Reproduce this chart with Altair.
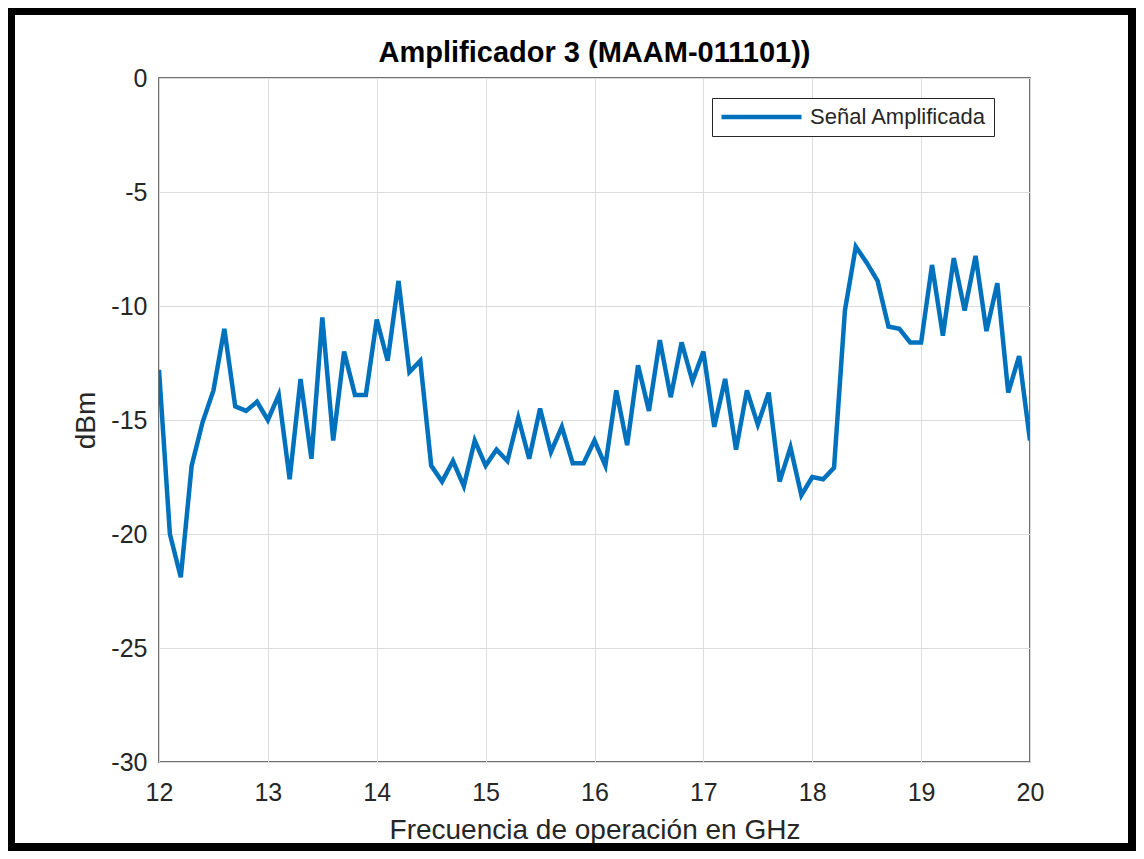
import altair as alt
import pandas as pd

freq_ghz = [round(12 + 0.1 * i, 1) for i in range(81)]
dbm = [
    -12.8, -20.0, -21.9, -17.0, -15.1, -13.7, -11.0, -14.4, -14.6, -14.2,
    -15.0, -13.9, -17.6, -13.2, -16.7, -10.5, -15.9, -12.0, -13.9, -13.9,
    -10.6, -12.4, -8.9, -12.9, -12.4, -17.0, -17.7, -16.8, -17.9, -15.9,
    -17.0, -16.3, -16.8, -14.9, -16.7, -14.5, -16.4, -15.3, -16.9, -16.9,
    -15.9, -17.0, -13.7, -16.1, -12.6, -14.6, -11.5, -14.0, -11.6, -13.3,
    -12.0, -15.3, -13.2, -16.3, -13.7, -15.2, -13.8, -17.7, -16.2, -18.3,
    -17.5, -17.6, -17.1, -10.2, -7.4, -8.1, -8.9, -10.9, -11.0, -11.6,
    -11.6, -8.2, -11.3, -7.9, -10.2, -7.8, -11.1, -9.0, -13.8, -12.2,
    -15.9,
]
series_name = "Señal Amplificada"
x_ticks = [12, 13, 14, 15, 16, 17, 18, 19, 20]
y_ticks = [-30, -25, -20, -15, -10, -5, 0]

df = pd.DataFrame({"freq": freq_ghz, "dbm": dbm, "serie": [series_name] * len(dbm)})

FONT = "Liberation Sans"
TXT = "#262626"
LBL = "'' + datum.value"

line = alt.Chart(df).mark_line(strokeWidth=4.5, clip=True).encode(
    x=alt.X("freq:Q",
            scale=alt.Scale(domain=[12, 20], nice=False, zero=False),
            axis=alt.Axis(values=x_ticks, title="Frecuencia de operación en GHz",
                          labelExpr=LBL, labelFlush=False,
                          labelPadding=18, titlePadding=11)),
    y=alt.Y("dbm:Q",
            scale=alt.Scale(domain=[-30, 0], nice=False, zero=False),
            axis=alt.Axis(values=y_ticks, title="dBm", labelExpr=LBL, labelFlush=False,
                          labelPadding=12, titlePadding=10)),
    color=alt.Color("serie:N",
                    scale=alt.Scale(domain=[series_name], range=["#0072BD"]),
                    legend=alt.Legend(title=None, orient="none", legendX=553, legendY=20,
                                      symbolType="stroke", symbolSize=6400,
                                      symbolStrokeWidth=4.5, labelFontSize=22,
                                      labelFont=FONT, labelColor=TXT, labelLimit=0,
                                      clipHeight=24,
                                      strokeColor="#262626", fillColor="white",
                                      padding=7, labelOffset=6)),
)

frame = alt.Chart(pd.DataFrame({"k": [0]})).mark_rect(
    fill="transparent", stroke="black", strokeWidth=8, clip=False
).encode(
    x=alt.value(-148), x2=alt.value(973), y=alt.value(-67), y2=alt.value(769)
)

chart = alt.layer(line, frame).properties(
    width=871, height=684,
    padding={"left": 151, "top": 70, "right": 106, "bottom": 89},
    autosize=alt.AutoSizeParams(type="none"),
    background="white",
    title=alt.TitleParams("Amplificador 3 (MAAM-011101))", fontSize=29, font=FONT,
                          fontWeight="bold", color="black", anchor="middle",
                          frame="group", baseline="alphabetic", offset=16, dy=100),
).configure_view(
    stroke="#404040", strokeWidth=1.5
).configure_axis(
    grid=True, gridColor="#dcdcdc", gridWidth=1,
    domain=False, ticks=False,
    labelFont=FONT, labelFontSize=25, labelColor=TXT,
    titleFont=FONT, titleFontSize=28, titleColor=TXT, titleFontWeight="normal",
)

chart.save("out.html", embed_options={"renderer": "svg", "actions": False})
